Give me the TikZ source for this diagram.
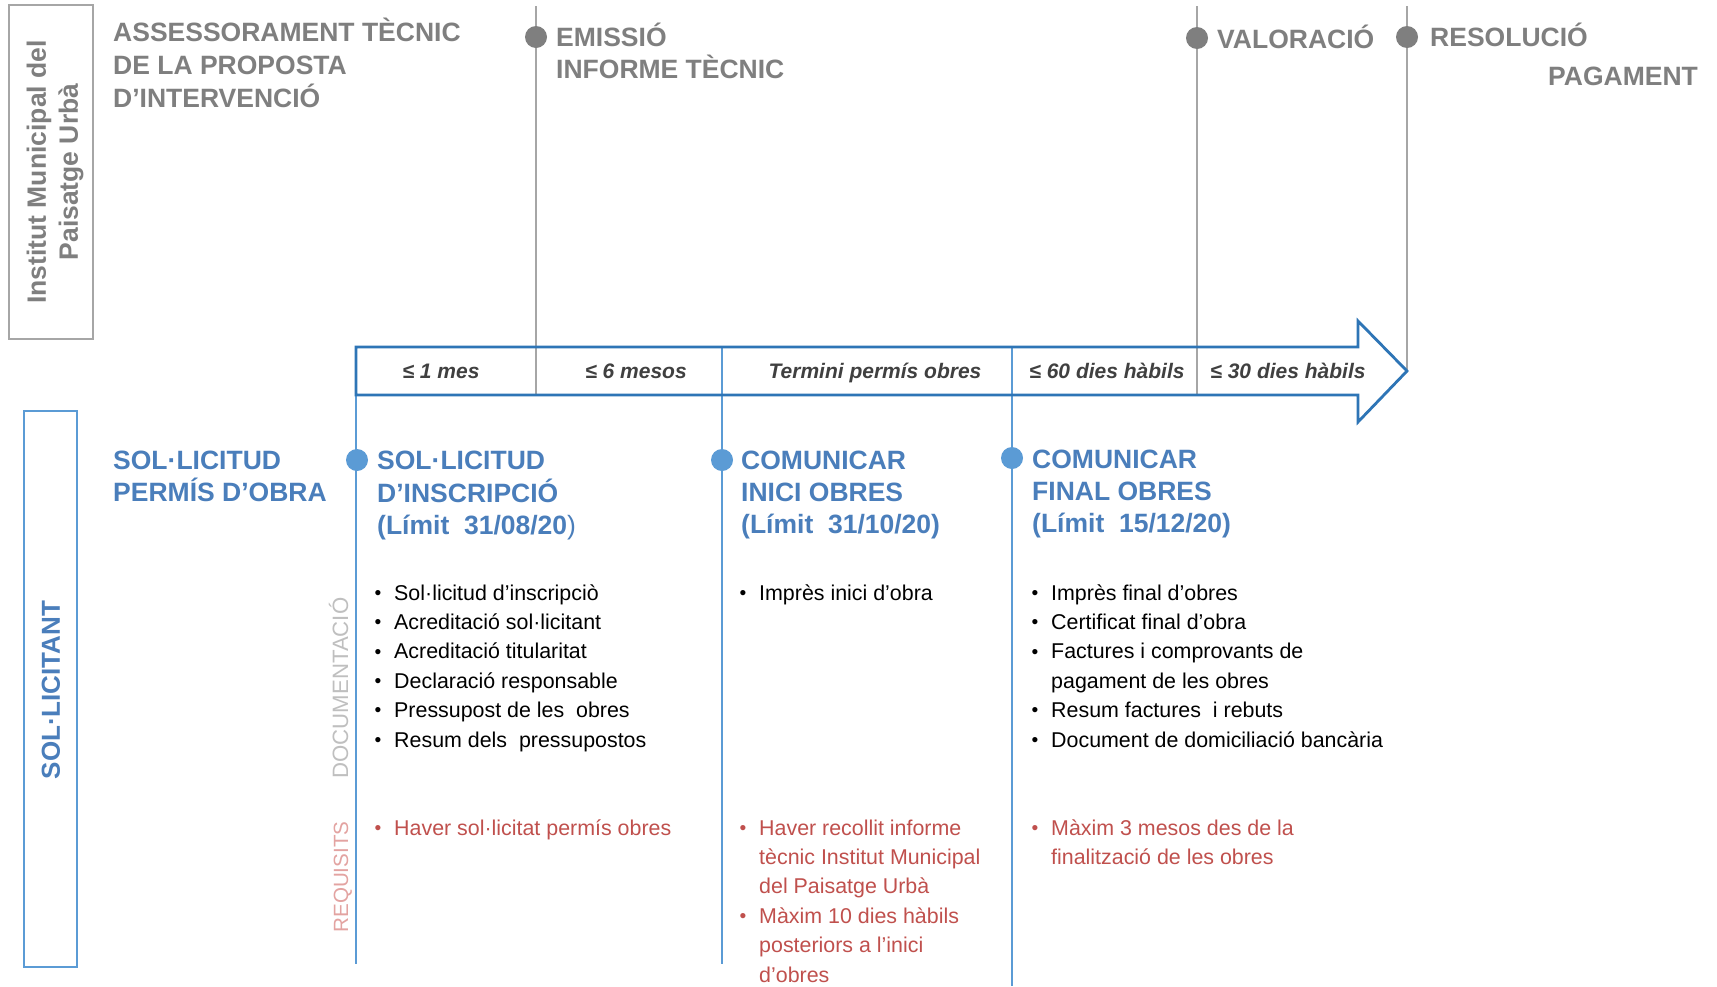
\documentclass[tikz,border=0pt]{standalone}
\usepackage{graphicx}
\usepackage{fontspec}
\setmainfont{Liberation Sans}
\definecolor{ggray}{HTML}{7F7F7F}
\definecolor{lgray}{HTML}{A6A6A6}
\definecolor{btxt}{HTML}{4A7EBB}
\definecolor{bdot}{HTML}{5B9BD5}
\definecolor{barrow}{HTML}{2E75B6}
\definecolor{rtxt}{HTML}{C0504D}
\definecolor{rlight}{HTML}{E3A3A1}
\definecolor{doccol}{HTML}{BFBFBF}
\definecolor{dtxt}{HTML}{404040}
\newcommand{\ml}[1]{\begin{tabular}[t]{@{}l@{}}#1\end{tabular}}
\newcommand{\bl}[1]{\begin{tabular}[t]{@{}l@{}l@{}}#1\end{tabular}}
\newcommand{\bu}{\makebox[16pt][l]{\hspace{-3.5pt}\raisebox{0.8pt}{\scalebox{0.9}{\textbullet}}}}
\tikzset{
  glab/.style={font=\fontsize{26.5}{32.4}\selectfont\bfseries, text=ggray, inner sep=0, anchor=base west},
  blab/.style={font=\fontsize{26.5}{32}\selectfont\bfseries, text=btxt, inner sep=0, anchor=base west},
  per/.style={font=\fontsize{21}{21}\selectfont\bfseries\itshape, text=dtxt, inner sep=0, anchor=base},
  doclist/.style={font=\fontsize{21.4}{29.4}\selectfont, text=black, inner sep=0, anchor=base west},
  reqlist/.style={doclist, text=rtxt},
  gdot/.style={circle, fill=ggray, minimum size=22pt, inner sep=0},
  bdotst/.style={circle, fill=bdot, minimum size=22pt, inner sep=0},
  gline/.style={draw=lgray, line width=2pt},
  bline/.style={draw=bdot, line width=1.6pt},
  sidelab/.style={font=\fontsize{22.2}{22.2}\selectfont, inner sep=0, rotate=90, anchor=base},
}
\begin{document}
\begin{tikzpicture}[x=1pt,y=-1pt]
\fill[white] (0,0) rectangle (1717,986);
\useasboundingbox (0,0) rectangle (1717,986);

% left boxes
\node[draw=lgray, line width=2pt, minimum width=84pt, minimum height=334pt, inner sep=0] (imbox) at (51,172) {};
\node[rotate=90, font=\fontsize{26.5}{32}\selectfont\bfseries, text=ggray, align=center, inner sep=0] (imtxt) at (55,172) {Institut Municipal del\\Paisatge Urbà};
\node[draw=bdot, line width=2.2pt, minimum width=53pt, minimum height=556pt, inner sep=0] (solbox) at (50.5,689) {};
\node[rotate=90, font=\fontsize{26}{26}\selectfont\bfseries, text=btxt, inner sep=0] (soltxt) at (51,690) {SOL·LICITANT};

% gray timeline
\coordinate (g1t) at (536,6);
\coordinate (g1b) at (536,395);
\coordinate (g2t) at (1197,6);
\coordinate (g2b) at (1197,395);
\coordinate (g3t) at (1407,6);
\coordinate (g3b) at (1407,371);
\draw[gline] (g1t) -- (g1b);
\draw[gline] (g2t) -- (g2b);
\draw[gline] (g3t) -- (g3b);

% blue lines
\coordinate (b1t) at (356,395);
\coordinate (b1b) at (356,964);
\coordinate (b2t) at (722,347);
\coordinate (b2b) at (722,964);
\coordinate (b3t) at (1012,347);
\coordinate (b3b) at (1012,986);
\draw[bline] (b1t) -- (b1b);
\draw[bline] (b2t) -- (b2b);
\draw[bline] (b3t) -- (b3b);

% arrow
\draw[barrow, line width=2.8pt, line join=miter]
  (356,347) -- (1358,347) -- (1358,321) -- (1407,371) -- (1358,422) -- (1358,395) -- (356,395) -- cycle;

% period labels
\node[per] (p1) at (441,378) {≤ 1 mes};
\node[per] (p2) at (636,378) {≤ 6 mesos};
\node[per] (p3) at (875,378) {Termini permís obres};
\node[per] (p4) at (1107,378) {≤ 60 dies hàbils};
\node[per] (p5) at (1288,378) {≤ 30 dies hàbils};

% gray dots and labels
\node[gdot] (gd1) at (536,37) {};
\node[gdot] (gd2) at (1197,38) {};
\node[gdot] (gd3) at (1407,37) {};
\node[glab] (assess) at (113,41.7) {\ml{ASSESSORAMENT TÈCNIC\\DE LA PROPOSTA\\D’INTERVENCIÓ}};
\node[glab, font=\fontsize{26.5}{31.5}\selectfont\bfseries] (emis) at (556,46) {\ml{EMISSIÓ\\INFORME TÈCNIC}};
\node[glab] (valor) at (1217,48) {VALORACIÓ};
\node[glab] (resol) at (1430,46) {RESOLUCIÓ};
\node[glab] (pagam) at (1548,85) {PAGAMENT};

% blue dots and headings
\node[bdotst] (bd1) at (357,460) {};
\node[bdotst] (bd2) at (722,460) {};
\node[bdotst] (bd3) at (1012,458) {};
\node[blab, font=\fontsize{26.5}{31.5}\selectfont\bfseries] (perm) at (113,469) {\ml{SOL·LICITUD\\PERMÍS D’OBRA}};
\node[blab] (h1) at (377,469) {\ml{SOL·LICITUD\\D’INSCRIPCIÓ\\(Límit\ \ 31/08/20{\mdseries )}}};
\node[blab] (h2) at (741,469) {\ml{COMUNICAR\\INICI OBRES\\(Límit\ \ 31/10/20)}};
\node[blab] (h3) at (1032,468) {\ml{COMUNICAR\\FINAL OBRES\\(Límit\ \ 15/12/20)}};

% side labels
\node[sidelab, text=doccol] (doclab) at (348,688) {DOCUMENTACIÓ};
\node[sidelab, text=rlight, font=\fontsize{20.6}{20.6}\selectfont] (reqlab) at (348,877) {REQUISITS};

% documentation lists
\node[doclist] (d1) at (378,600) {\bl{\bu & Sol·licitud d’inscripciò\\
\bu & Acreditació sol·licitant\\
\bu & Acreditació titularitat\\
\bu & Declaració responsable\\
\bu & Pressupost de les\ \ obres\\
\bu & Resum dels\ \ pressupostos}};
\node[doclist] (d2) at (743,600) {\bl{\bu & Imprès inici d’obra}};
\node[doclist] (d3) at (1035,600) {\bl{\bu & Imprès final d’obres\\
\bu & Certificat final d’obra\\
\bu & Factures i comprovants de\\
 & pagament de les obres\\
\bu & Resum factures\ \ i rebuts\\
\bu & Document de domiciliació bancària}};

% requirement lists
\node[reqlist] (r1) at (378,835) {\bl{\bu & Haver sol·licitat permís obres}};
\node[reqlist] (r2) at (743,835) {\bl{\bu & Haver recollit informe\\
 & tècnic Institut Municipal\\
 & del Paisatge Urbà\\
\bu & Màxim 10 dies hàbils\\
 & posteriors a l’inici\\
 & d’obres}};
\node[reqlist] (r3) at (1035,835) {\bl{\bu & Màxim 3 mesos des de la\\
 & finalització de les obres}};
\end{tikzpicture}
\end{document}
